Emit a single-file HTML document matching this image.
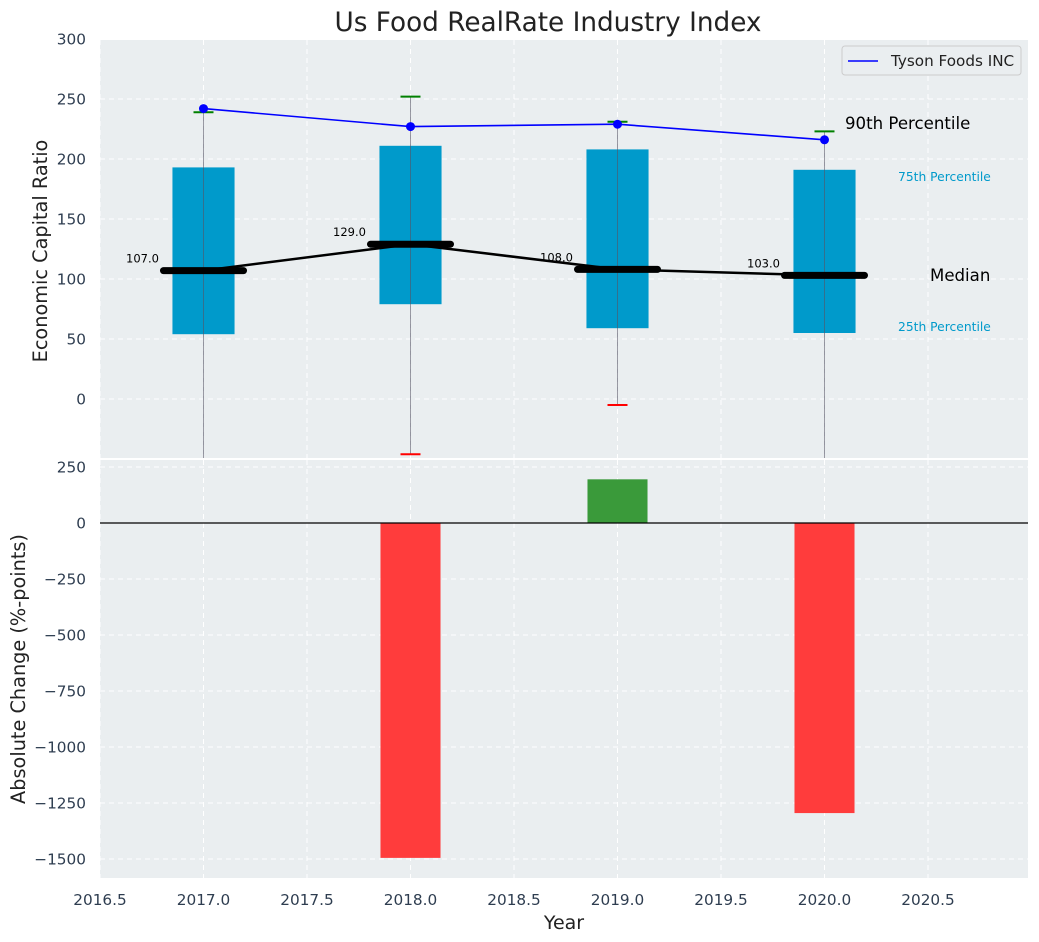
<!DOCTYPE html>
<html><head><meta charset="utf-8"><style>
body{margin:0;background:#fff;}
svg{display:block;font-family:"DejaVu Sans","Liberation Sans",sans-serif;}
</style></head><body>
<svg id="c" width="1039" height="942" xmlns="http://www.w3.org/2000/svg"></svg>
<script>
const years=[2017,2018,2019,2020];
const p25=[54,79,59,55];
const p75=[193,211,208,191];
const medians=[107,129,108,103];
const whiskHigh=[239,252,231,223];
const whiskLow=[-100,-46,-5,-100];
const tyson=[242,227,229,216];
const changes=[0,-1495,195,-1295];
const xTicks=[2016.5,2017.0,2017.5,2018.0,2018.5,2019.0,2019.5,2020.0,2020.5];
const yTopTicks=[0,50,100,150,200,250,300];
const yBotTicks=[-1500,-1250,-1000,-750,-500,-250,0,250];

const NS="http://www.w3.org/2000/svg";
const svg=document.getElementById('c');
function el(tag,attrs,parent){const e=document.createElementNS(NS,tag);for(const k in attrs)e.setAttribute(k,attrs[k]);(parent||svg).appendChild(e);return e;}
const fmt=v=>(v<0?'\u2212':'')+Math.abs(v);
const L=100,R=1028;
const x=v=>L+(v-2016.5)*207;
const T0=40,T1=458,B0=460,B1=878;
const yT=v=>399-v*1.2;
const yB=v=>523-v*0.224;
const TF=15.3;
const clipT=el('clipPath',{id:'ct'});el('rect',{x:L,y:T0,width:R-L,height:T1-T0},clipT);
const clipB=el('clipPath',{id:'cb'});el('rect',{x:L,y:B0,width:R-L,height:B1-B0},clipB);

let bg=el('rect',{x:L,y:T0,width:R-L,height:T1-T0,fill:'#eaeef0'});

let bg2=el('rect',{x:L,y:B0,width:R-L,height:B1-B0,fill:'#eaeef0'});


xTicks.forEach(t=>{
  el('line',{x1:x(t),x2:x(t),y1:T0,y2:T1,stroke:'#fff','stroke-dasharray':'5,4','stroke-width':1});
  el('line',{x1:x(t),x2:x(t),y1:B0,y2:B1,stroke:'#fff','stroke-dasharray':'5,4','stroke-width':1});
  let tl=el('text',{x:x(t),y:905,'text-anchor':'middle','font-size':TF,fill:'#2e3d50'});tl.textContent=t.toFixed(1);
  
});
yTopTicks.forEach(t=>{
  el('line',{x1:L,x2:R,y1:yT(t),y2:yT(t),stroke:'#fff','stroke-dasharray':'5,4'});
  let tl=el('text',{x:86,y:yT(t)+5.5,'text-anchor':'end','font-size':TF,fill:'#2e3d50'});tl.textContent=fmt(t);
  
});
yBotTicks.forEach(t=>{
  el('line',{x1:L,x2:R,y1:yB(t),y2:yB(t),stroke:'#fff','stroke-dasharray':'5,4'});
  let tl=el('text',{x:86,y:yB(t)+5.5,'text-anchor':'end','font-size':TF,fill:'#2e3d50'});tl.textContent=fmt(t);
  
});

const gT=el('g',{'clip-path':'url(#ct)'});
years.forEach((yr,i)=>{
  const cx=x(yr),bw=0.3*207;
  let b=el('rect',{x:cx-bw/2,y:yT(p75[i]),width:bw,height:yT(p25[i])-yT(p75[i]),fill:'#009acb'},gT);
  
  let w=el('line',{x1:cx,x2:cx,y1:yT(whiskHigh[i]),y2:yT(whiskLow[i]),stroke:'#556','stroke-opacity':0.6,'stroke-width':1},gT);
  
  let c1=el('line',{x1:cx-10,x2:cx+10,y1:yT(whiskHigh[i]),y2:yT(whiskHigh[i]),stroke:'green','stroke-width':2},gT);
  
  let c2=el('line',{x1:cx-10,x2:cx+10,y1:yT(whiskLow[i]),y2:yT(whiskLow[i]),stroke:'red','stroke-width':2},gT);
  
});
let mp=years.map((yr,i)=>x(yr)+','+yT(medians[i])).join(' ');
let ml=el('polyline',{points:mp,fill:'none',stroke:'#000','stroke-width':2.5},gT);

years.forEach((yr,i)=>{
  let m=el('line',{x1:x(yr)-40,x2:x(yr)+40,y1:yT(medians[i]),y2:yT(medians[i]),stroke:'#000','stroke-width':7,'stroke-linecap':'round'},gT);
  
  let t=el('text',{x:x(yr)-61,y:yT(medians[i])-8,'text-anchor':'middle','font-size':11.5,fill:'#000'});t.textContent=medians[i].toFixed(1);
  
});
let tp=years.map((yr,i)=>x(yr)+','+yT(tyson[i])).join(' ');
let tl=el('polyline',{points:tp,fill:'none',stroke:'#00f','stroke-width':1.6},gT);

years.forEach((yr,i)=>{
  let p=el('circle',{cx:x(yr),cy:yT(tyson[i]),r:4.5,fill:'#00f'},gT);
  
});
const ann=[[845,129,'90th Percentile',16.6,'#000'],[898,181,'75th Percentile',12.3,'#009acb'],[930,281,'Median',16.6,'#000'],[898,331,'25th Percentile',12.3,'#009acb']];
ann.forEach(a=>{let t=el('text',{x:a[0],y:a[1],'font-size':a[3],fill:a[4]});t.textContent=a[2];
});

let lg=el('g',{});
el('rect',{x:842,y:46,width:179,height:29,rx:3,fill:'#eaeef0',stroke:'#ccc'},lg);
el('line',{x1:848,x2:878,y1:61,y2:61,stroke:'#00f','stroke-width':1.6},lg);
let lt=el('text',{x:891,y:66,'font-size':15.2,fill:'#222'},lg);lt.textContent='Tyson Foods INC';

const gB=el('g',{'clip-path':'url(#cb)'});
years.forEach((yr,i)=>{
  if(changes[i]===0)return;
  const bw=0.29*207,y0=yB(0),y1=yB(changes[i]);
  let b=el('rect',{x:x(yr)-bw/2,y:Math.min(y0,y1),width:bw,height:Math.abs(y1-y0),fill:changes[i]<0?'#ff3c3c':'#3a9a3a'},gB);
  
});
let zl=el('line',{x1:L,x2:R,y1:yB(0),y2:yB(0),stroke:'#000','stroke-width':1.2});


let ti=el('text',{x:548,y:31,'text-anchor':'middle','font-size':26.3,fill:'#222'});ti.textContent='Us Food RealRate Industry Index';

let xa=el('text',{x:564,y:929,'text-anchor':'middle','font-size':19,fill:'#222'});xa.textContent='Year';

let ya=el('text',{x:0,y:0,'text-anchor':'middle','font-size':19.3,fill:'#222',transform:'translate(47,251) rotate(-90)'});ya.textContent='Economic Capital Ratio';

let yb=el('text',{x:0,y:0,'text-anchor':'middle','font-size':19.3,fill:'#222',transform:'translate(25,669) rotate(-90)'});yb.textContent='Absolute Change (%-points)';

</script>
</body></html>
